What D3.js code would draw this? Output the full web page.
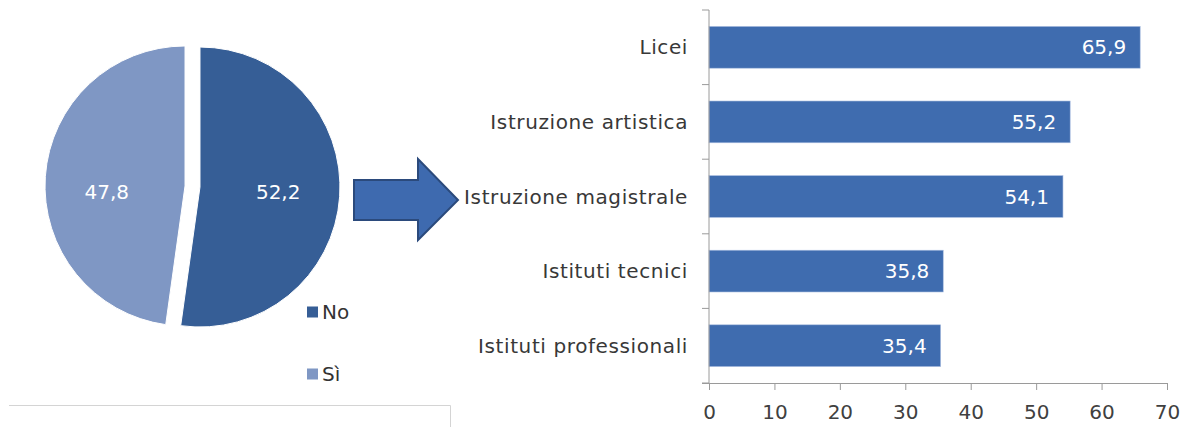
<!DOCTYPE html>
<html>
<head>
<meta charset="utf-8">
<script src="https://cdn.jsdelivr.net/npm/d3@7"></script>
<style>
html,body{margin:0;padding:0;background:#fff;}
svg{display:block;font-family:"DejaVu Sans",sans-serif;}
</style>
</head>
<body>
<svg id="chart" width="1187" height="427"></svg>
<script>
// Pie data
const pieLabels = ["No", "Sì"];
const pieValues = [52.2, 47.8];
// Bar data
const barCategories = ["Licei", "Istruzione artistica", "Istruzione magistrale", "Istituti tecnici", "Istituti professionali"];
const barValues = [65.9, 55.2, 54.1, 35.8, 35.4];
const xTicks = [0, 10, 20, 30, 40, 50, 60, 70];

const fmt = v => d3.format(".1f")(v).replace(".", ",");
const svg = d3.select("#chart");

// ---- Pie ----
const pieColors = d3.scaleOrdinal().domain(pieLabels).range(["#365e96", "#7f97c4"]);
const cx = 192.5, cy = 186.5, R = 140, explode = 7.5;
const pie = d3.pie().sort(null).value(d => d.v);
const arcs = pie(pieLabels.map((l, i) => ({l, v: pieValues[i]})));
const arc = d3.arc().innerRadius(0).outerRadius(R);
const pg = svg.append("g").attr("transform", `translate(${cx},${cy})`);
arcs.forEach(a => {
  const mid = (a.startAngle + a.endAngle) / 2;
  const dx = Math.sin(mid) * explode, dy = -Math.cos(mid) * explode;
  const g = pg.append("g").attr("transform", `translate(${dx},${dy})`);
  g.append("path").attr("d", arc(a)).attr("fill", pieColors(a.data.l))
    .attr("stroke", "#fff").attr("stroke-width", 1);
  const lr = R * 0.56;
  g.append("text")
    .attr("x", Math.sin(mid) * lr).attr("y", 5 - dy)
    .attr("text-anchor", "middle").attr("dominant-baseline", "central")
    .attr("fill", "#fff").attr("font-size", 20)
    .text(fmt(a.data.v));
});

// legend
const leg = svg.append("g").attr("transform", "translate(307,0)");
pieLabels.forEach((l, i) => {
  const y = 312 + i * 62;
  leg.append("rect").attr("x", 0).attr("y", y - 5.5).attr("width", 11).attr("height", 11).attr("fill", pieColors(l));
  leg.append("text").attr("x", 15).attr("y", y).attr("dominant-baseline", "central")
    .attr("font-size", 20).attr("fill", "#333").text(l);
});

// bottom frame lines
svg.append("path").attr("d", "M9,405.5H450.5V427").attr("fill", "none").attr("stroke", "#d4d4d4").attr("stroke-width", 1);

// ---- Arrow ----
svg.append("path")
  .attr("d", "M354,180H418V159L458,200L418,240V220H354Z")
  .attr("fill", "#3e6aaf").attr("stroke", "#2b4a7c").attr("stroke-width", 2).attr("stroke-linejoin", "miter");

// ---- Bars ----
const x = d3.scaleLinear().domain([0, 70]).range([709, 1167]);
const y = d3.scaleBand().domain(barCategories).range([10, 383]).paddingInner(0.44).paddingOuter(0.22);
const bg = svg.append("g");
bg.selectAll("rect.bar").data(barCategories).join("rect").attr("class", "bar")
  .attr("x", x(0)).attr("y", d => y(d))
  .attr("width", (d, i) => x(barValues[i]) - x(0)).attr("height", y.bandwidth())
  .attr("fill", "#3f6caf").attr("stroke", "#a9bde0").attr("stroke-width", 0.6);
bg.selectAll("text.val").data(barCategories).join("text").attr("class", "val")
  .attr("x", (d, i) => x(barValues[i]) - 14).attr("y", d => y(d) + y.bandwidth() / 2)
  .attr("text-anchor", "end").attr("dominant-baseline", "central")
  .attr("fill", "#fff").attr("font-size", 20).text((d, i) => fmt(barValues[i]));

// y axis with category boundary ticks
const yAxisG = svg.append("g");
yAxisG.append("line").attr("x1", 709).attr("x2", 709).attr("y1", 10).attr("y2", 383).attr("stroke", "#9a9a9a");
d3.range(barCategories.length + 1).forEach(i => {
  const yy = 10 + i * (373 / barCategories.length);
  yAxisG.append("line").attr("x1", 702).attr("x2", 709).attr("y1", yy).attr("y2", yy).attr("stroke", "#9a9a9a");
});
yAxisG.selectAll("text").data(barCategories).join("text")
  .attr("x", 688).attr("y", d => y(d) + y.bandwidth() / 2)
  .attr("text-anchor", "end").attr("dominant-baseline", "central")
  .attr("font-size", 20).attr("letter-spacing", 0.6).attr("fill", "#383838").text(d => d);

// x axis
const xAxis = d3.axisBottom(x).tickValues(xTicks).tickSize(7).tickSizeOuter(0).tickPadding(15);
const xg = svg.append("g").attr("transform", "translate(0,383)").call(xAxis);
xg.select(".domain").attr("stroke", "#9a9a9a").attr("d", "M702,0.5H1167");
xg.selectAll(".tick line").attr("stroke", "#9a9a9a");
xg.selectAll(".tick text").attr("font-size", 20).attr("fill", "#404040").attr("font-family", "DejaVu Sans");
</script>
</body>
</html>
